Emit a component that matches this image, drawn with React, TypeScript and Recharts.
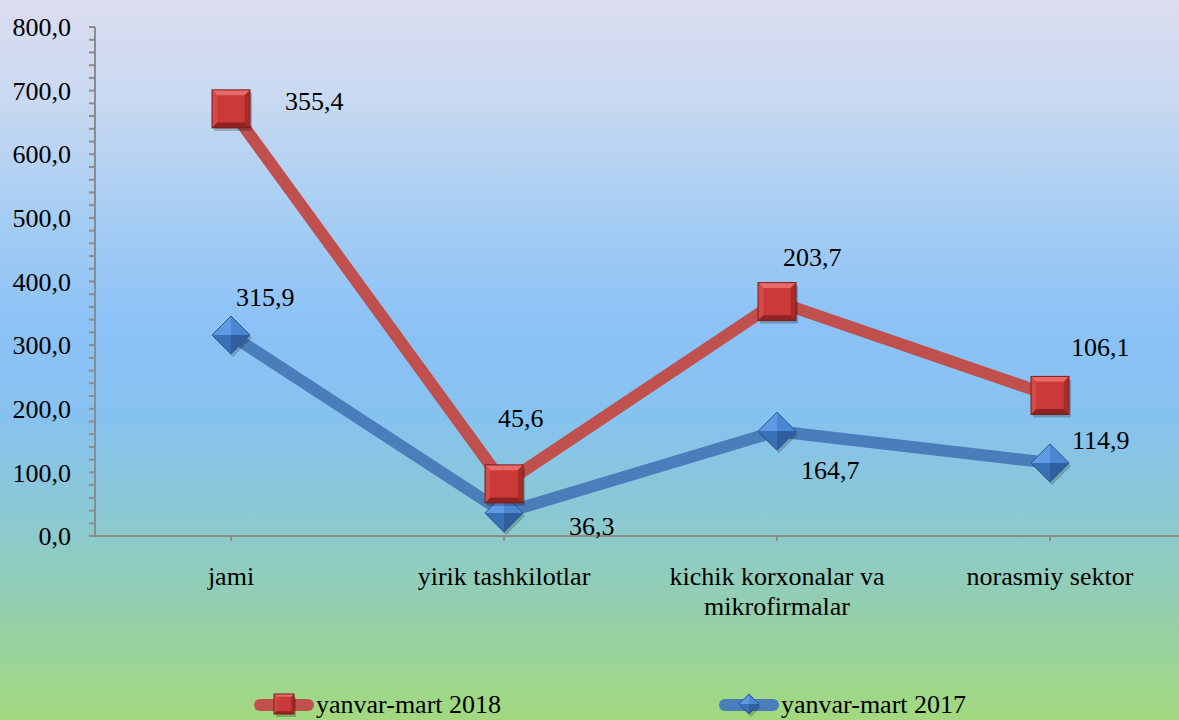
import { AreaChart, Area, XAxis, YAxis, Legend } from "recharts";

const categories = ["jami", "yirik tashkilotlar", "kichik korxonalar va mikrofirmalar", "norasmiy sektor"];
const values2017 = [315.9, 36.3, 164.7, 114.9];
const values2018 = [355.4, 45.6, 203.7, 106.1];
const yTicks = [0, 20, 40, 60, 80, 100, 120, 140, 160, 180, 200, 220, 240, 260, 280, 300, 320, 340, 360, 380, 400, 420, 440, 460, 480, 500, 520, 540, 560, 580, 600, 620, 640, 660, 680, 700, 720, 740, 760, 780, 800];
const legendNames = ["yanvar-mart 2018", "yanvar-mart 2017"];

// label offsets from the marker (dx, dy)
const labelOffsets2017 = [[5, -38], [65, 14], [24, 39], [22, -22]];
const labelOffsets2018 = [[54, -7], [-6, -65], [6, -44], [21, -48]];

const data = categories.map((c, i) => ({ name: c, y2017: values2017[i], y2018: values2018[i] }));

const FONT = "Liberation Serif, DejaVu Serif, serif";
const FS = 26;
const RED = "#c0504d";
const BLUE = "#4a7ebb";
const AXIS = "#8c8c8c";

const fmt = (v: number) => v.toFixed(1).replace(".", ",");

function SquareMark({ cx, cy, s }: { cx: number; cy: number; s: number }) {
  const h = s / 2;
  const b = s * 0.14;
  const L = cx - h, R = cx + h, T = cy - h, B = cy + h;
  return (
    <g>
      <rect x={L + 2} y={T + 3} width={s} height={s} fill="rgba(0,0,0,0.22)" />
      <rect x={L} y={T} width={s} height={s} fill="#c93a38" />
      <polygon points={`${L},${T} ${R},${T} ${R - b},${T + b} ${L + b},${T + b}`} fill="#e96a68" />
      <polygon points={`${L},${T} ${L + b},${T + b} ${L + b},${B - b} ${L},${B}`} fill="#d44a47" />
      <polygon points={`${R},${T} ${R},${B} ${R - b},${B - b} ${R - b},${T + b}`} fill="#a92c2a" />
      <polygon points={`${L},${B} ${L + b},${B - b} ${R - b},${B - b} ${R},${B}`} fill="#8e2321" />
      <rect x={L} y={T} width={s} height={s} fill="none" stroke="#7a1d1c" strokeWidth={1} />
    </g>
  );
}

function DiamondMark({ cx, cy, s }: { cx: number; cy: number; s: number }) {
  const h = s / 2;
  return (
    <g>
      <polygon points={`${cx + 2},${cy - h + 3} ${cx + h + 2},${cy + 3} ${cx + 2},${cy + h + 3} ${cx - h + 2},${cy + 3}`} fill="rgba(0,0,0,0.2)" />
      <polygon points={`${cx},${cy - h} ${cx},${cy} ${cx - h},${cy}`} fill="#5f9ae2" />
      <polygon points={`${cx},${cy - h} ${cx + h},${cy} ${cx},${cy}`} fill="#4a86d2" />
      <polygon points={`${cx + h},${cy} ${cx},${cy + h} ${cx},${cy}`} fill="#2e5f9f" />
      <polygon points={`${cx - h},${cy} ${cx},${cy + h} ${cx},${cy}`} fill="#3a70b6" />
      <polygon points={`${cx},${cy - h} ${cx + h},${cy} ${cx},${cy + h} ${cx - h},${cy}`} fill="none" stroke="#2a568f" strokeWidth={1} />
    </g>
  );
}

function XTick(props: any) {
  const { x, y, payload } = props;
  const label: string = payload.value;
  const lines = label === "kichik korxonalar va mikrofirmalar" ? ["kichik korxonalar va", "mikrofirmalar"] : [label];
  return (
    <text x={x} y={y} textAnchor="middle" style={{ fontFamily: FONT, fontSize: FS }} fill="#000">
      {lines.map((l, i) => (
        <tspan key={i} x={x} dy={i === 0 ? 42 : 30}>{l}</tspan>
      ))}
    </text>
  );
}

function makeLabel(values: number[], offsets: number[][]) {
  return (props: any) => {
    const { x, y, index } = props;
    const [dx, dy] = offsets[index];
    return (
      <text key={`l${index}`} x={x + dx} y={y + dy} dominantBaseline="central" style={{ fontFamily: FONT, fontSize: FS }} fill="#000">
        {fmt(values[index])}
      </text>
    );
  };
}

function LegendBox() {
  return (
    <svg width={1179} height={40} style={{ display: "block" }}>
      <line x1={260} y1={25} x2={308} y2={25} stroke={RED} strokeWidth={12} strokeLinecap="round" />
      <SquareMark cx={284} cy={24} s={20} />
      <text x={316} y={33} style={{ fontFamily: FONT, fontSize: FS }} fill="#000">{legendNames[0]}</text>
      <line x1={725} y1={25} x2={773} y2={25} stroke={BLUE} strokeWidth={12} strokeLinecap="round" />
      <DiamondMark cx={749} cy={24} s={20} />
      <text x={781} y={33} style={{ fontFamily: FONT, fontSize: FS }} fill="#000">{legendNames[1]}</text>
    </svg>
  );
}

export default function App() {
  return (
    <div
      style={{
        position: "absolute",
        left: 0,
        top: 0,
        width: 1179,
        height: 720,
        overflow: "hidden",
        fontFamily: FONT,
        background:
          "linear-gradient(to bottom, #dcdcf0 0%, #c8d9f1 14%, #a6cdf3 30%, #8cc2f7 45%, #86c2ef 58%, #8bc9d2 72%, #93cfb0 84%, #9cd594 93%, #a2d97e 100%)",
      }}
    >
      <AreaChart width={1186} height={720} data={data} margin={{ top: 27, right: 0, bottom: 0, left: 0 }}>
        <XAxis
          dataKey="name"
          padding={{ left: 136, right: 136 }}
          stroke={AXIS}
          strokeWidth={2}
          tickSize={5}
          tickLine={{ stroke: AXIS, strokeWidth: 2 }}
          tick={<XTick />}
          interval={0}
          height={144}
        />
        <YAxis
          domain={[0, 800]}
          ticks={yTicks}
          interval={0}
          width={95}
          stroke={AXIS}
          strokeWidth={2}
          tickSize={6}
          tickMargin={18}
          tickLine={{ stroke: AXIS, strokeWidth: 2 }}
          tickFormatter={(v: number) => (v % 100 === 0 ? fmt(v) : "")}
          tick={{ style: { fontFamily: FONT, fontSize: FS }, fill: "#000" }}
        />
        <Area
          type="linear"
          dataKey="y2017"
          stackId="a"
          stroke={BLUE}
          strokeWidth={12}
          strokeLinejoin="round"
          fill="none"
          fillOpacity={0}
          isAnimationActive={false}
          dot={(p: any) => <DiamondMark key={`d${p.index}`} cx={p.cx} cy={p.cy} s={38} />}
          activeDot={false}
          label={makeLabel(values2017, labelOffsets2017)}
        />
        <Area
          type="linear"
          dataKey="y2018"
          stackId="a"
          stroke={RED}
          strokeWidth={12}
          strokeLinejoin="round"
          fill="none"
          fillOpacity={0}
          isAnimationActive={false}
          dot={(p: any) => <SquareMark key={`s${p.index}`} cx={p.cx} cy={p.cy} s={38} />}
          activeDot={false}
          label={makeLabel(values2018, labelOffsets2018)}
        />
        <Legend verticalAlign="bottom" height={40} content={() => <LegendBox />} wrapperStyle={{ left: 0, width: 1179 }} />
      </AreaChart>
    </div>
  );
}
